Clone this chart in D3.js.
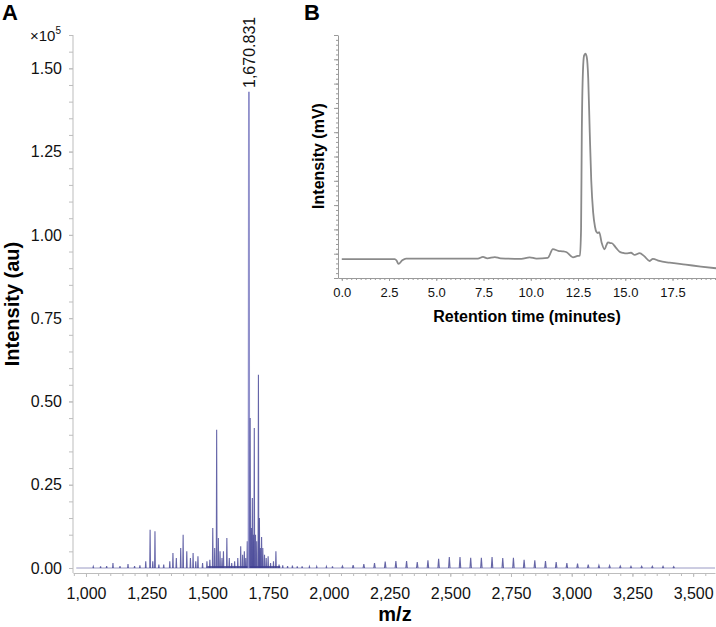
<!DOCTYPE html>
<html><head><meta charset="utf-8">
<script src="https://cdn.jsdelivr.net/npm/d3@7/dist/d3.min.js"></script>
<style>body{margin:0;background:#fff}svg{display:block;font-family:"Liberation Sans",Arial,sans-serif}</style>
</head><body><svg id="c" width="716" height="627"></svg>
<script>
// ---------- Panel A: mass spectrum (intensity in units of 1e5) ----------
const msMz = [1030,1060,1085,1111,1140,1173,1200,1222,1246,1264,1275,1284,1300,1320,1345,1358,1372,1390,1400,1415,1430,1441,1452,1461,1480,1498,1510,1522,1530,1538,1545,1552,1560,1566,1580,1590,1600,1612,1625,1637,1645,1652,1658,1664,1670.831,1676,1681,1685,1689,1693,1698,1703,1710,1714,1718,1723,1728,1735,1742,1750,1760,1772,1782,1795,1810,1830,1850,1870,1890,1920,1950,1990,2015];
const msInt = [0.004,0.005,0.006,0.015,0.006,0.012,0.006,0.008,0.02,0.115,0.02,0.11,0.01,0.01,0.02,0.045,0.03,0.06,0.1,0.05,0.03,0.045,0.02,0.035,0.015,0.02,0.025,0.12,0.06,0.415,0.09,0.05,0.03,0.05,0.09,0.03,0.015,0.02,0.03,0.065,0.04,0.05,0.03,0.08,1.43,0.45,0.12,0.21,0.1,0.42,0.1,0.08,0.58,0.15,0.06,0.093,0.06,0.04,0.03,0.035,0.015,0.02,0.05,0.01,0.008,0.006,0.007,0.005,0.005,0.004,0.004,0.004,0.005];
// periodic (44 Da) series
const pegMz = [2057,2101,2145,2189,2233,2277,2321,2365,2409,2453,2497,2541,2585,2629,2673,2717,2761,2805,2849,2893,2937,2981,3025,3069,3113,3157,3201,3245,3289,3333,3377,3421];
const pegInt = [0.006,0.009,0.012,0.015,0.019,0.021,0.021,0.018,0.023,0.028,0.033,0.033,0.031,0.031,0.033,0.030,0.031,0.025,0.023,0.021,0.018,0.015,0.013,0.010,0.008,0.007,0.006,0.005,0.005,0.005,0.005,0.004];
const msXTicks = [1000,1250,1500,1750,2000,2250,2500,2750,3000,3250,3500];
const msYTicks = [0,0.25,0.5,0.75,1.0,1.25,1.5];
const msLabelPeak = "1,670.831";

// ---------- Panel B: chromatogram ----------
const lcTime = [0,2.8,2.9,3.0,3.2,3.4,7.2,7.47,7.7,8.1,8.4,9.5,9.94,10.3,10.9,11.17,11.45,11.67,11.9,12.23,12.48,12.6,12.66,12.7,12.76,12.82,12.89,12.96,13.04,13.12,13.2,13.3,13.4,13.47,13.55,13.62,13.75,13.9,14.0,14.08,14.2,14.3,14.5,14.7,14.9,15.05,15.3,15.5,15.76,16.0,16.29,16.46,16.8,17.35,18.2,19.0,19.8];
const lcMv = [7.8,7.8,7.2,5.8,7.3,8.0,8.0,8.7,8.1,8.6,8.1,7.9,8.5,8.0,8.3,11.9,11.2,11.0,10.6,8.5,9.1,9.2,20,60,85,91.5,92.3,91,82,60,40,27,21,19,18.5,18.9,14.5,11.8,13.5,14.7,14.4,14.3,12.5,10.8,10.3,10.1,10.4,9.5,10.2,9.0,7.0,7.9,7.0,6.3,5.5,4.7,4.0];
const lcXTicks = [0,2.5,5,7.5,10,12.5,15,17.5];

const svg = d3.select("#c");
const axisCol = "#bdbdbd";

// ===== Panel A =====
const x = d3.scaleLinear().domain([946.5, 3590]).range([73, 715]);
const y = d3.scaleLinear().domain([-0.015, 1.6]).range([573, 35]);

const gA = svg.append("g");
gA.append("line").attr("x1", x(960)).attr("x2", x(3590)).attr("y1", y(0)).attr("y2", y(0))
  .attr("stroke", "#9a9ac4").attr("stroke-width", 1);
gA.append("line").attr("x1", x(1500)).attr("x2", x(1800)).attr("y1", y(0.003)).attr("y2", y(0.003))
  .attr("stroke", "#2a2a80").attr("stroke-width", 2).attr("opacity", 0.7);

const spike = d3.line().x(d => x(d[0])).y(d => y(d[1]));
const peaks = msMz.map((m, i) => ({m, h: msInt[i]}));
const pegs = pegMz.map((m, i) => ({m, h: pegInt[i]}));

gA.selectAll("path.peg").data(pegs).join("path").attr("class", "peg")
  .attr("d", d => spike([[d.m - 4, 0], [d.m - 1, d.h], [d.m + 2, 0]]))
  .attr("fill", "none").attr("stroke", "#4a4a96").attr("stroke-width", 1.1).attr("opacity", 0.85);

gA.selectAll("path.pk").data(peaks).join("path").attr("class", "pk")
  .attr("d", d => spike([[d.m - 1.5, 0], [d.m, d.h], [d.m + 1.5, 0]]))
  .attr("fill", "none")
  .attr("stroke", d => d.h > 1 ? "#8a8ac8" : "#3e3e92")
  .attr("stroke-width", d => d.h > 1 ? 1.8 : 1.1)
  .attr("opacity", d => d.h > 1 ? 0.95 : 0.8);

// axes A
const xMinor = d3.range(950, 3600, 50);
const gx = svg.append("g").attr("transform", "translate(0,573)")
  .call(d3.axisBottom(x).tickValues(xMinor).tickSize(3).tickSizeOuter(0).tickFormat(""));
const gx2 = svg.append("g").attr("transform", "translate(0,573)")
  .call(d3.axisBottom(x).tickValues(msXTicks).tickSize(4).tickSizeOuter(0).tickPadding(11).tickFormat(d3.format(",")));
const yMinor = d3.range(0, 1.6001, 0.05);
const gy = svg.append("g").attr("transform", "translate(73,0)")
  .call(d3.axisLeft(y).tickValues(yMinor).tickSize(4).tickSizeOuter(0).tickFormat(""));
const gy2 = svg.append("g").attr("transform", "translate(73,0)")
  .call(d3.axisLeft(y).tickValues(msYTicks).tickSize(4).tickSizeOuter(0).tickPadding(7).tickFormat(d3.format(".2f")));
[gx, gx2, gy, gy2].forEach(g => {
  g.selectAll("path,line").attr("stroke", axisCol);
  g.selectAll("text").attr("font-size", 16).attr("fill", "#111").attr("font-family", "Liberation Sans, Arial, sans-serif");
});
gy.select(".domain").attr("d", `M0,${y(1.6)}V573`);
gy2.select(".domain").remove();
gx2.select(".domain").remove();

const mult = svg.append("text").attr("x", 30).attr("y", 41).attr("font-size", 15).attr("fill", "#111");
mult.append("tspan").text("×10");
mult.append("tspan").attr("font-size", 10).attr("dy", -7).text("5");

svg.append("text").attr("transform", `translate(${x(1670.831) + 6},88) rotate(-90)`)
  .attr("font-size", 16).attr("fill", "#111").text(msLabelPeak);

svg.append("text").attr("x", 395).attr("y", 621).attr("text-anchor", "middle")
  .attr("font-size", 20).attr("font-weight", "bold").text("m/z");
svg.append("text").attr("transform", "translate(19,304) rotate(-90)").attr("text-anchor", "middle")
  .attr("font-size", 20).attr("font-weight", "bold").text("Intensity (au)");
svg.append("text").attr("x", 2).attr("y", 20).attr("font-size", 22).attr("font-weight", "bold").text("A");

// ===== Panel B =====
const bx = d3.scaleLinear().domain([-0.2, 19.8]).range([338, 716]);
const by = d3.scaleLinear().domain([0, 100]).range([278, 35]);

const gbx = svg.append("g").attr("transform", "translate(0,278)")
  .call(d3.axisBottom(bx).tickValues(d3.range(0, 19.9, 0.25)).tickSize(2).tickSizeOuter(0).tickFormat(""));
const gbx2 = svg.append("g").attr("transform", "translate(0,278)")
  .call(d3.axisBottom(bx).tickValues(lcXTicks).tickSize(3).tickSizeOuter(0).tickPadding(7).tickFormat(d3.format(".1f")));
const gby = svg.append("g").attr("transform", "translate(338,0)")
  .call(d3.axisLeft(by).tickValues(d3.range(0, 100.1, 2)).tickSize(2).tickSizeOuter(0).tickFormat(""));
const gby2 = svg.append("g").attr("transform", "translate(338,0)")
  .call(d3.axisLeft(by).tickValues(d3.range(0, 100.1, 10)).tickSize(4).tickSizeOuter(0).tickFormat(""));
[gbx, gbx2, gby, gby2].forEach(g => {
  g.selectAll("path,line").attr("stroke", "#9a9a9a");
  g.selectAll("text").attr("font-size", 13).attr("fill", "#111").attr("font-family", "Liberation Sans, Arial, sans-serif");
});
gbx2.select(".domain").remove();
gby2.select(".domain").remove();

const lcLine = d3.line().x((d, i) => bx(lcTime[i])).y(d => by(d)).curve(d3.curveMonotoneX);
svg.append("path").attr("d", lcLine(lcMv)).attr("fill", "none")
  .attr("stroke", "#8a8a8a").attr("stroke-width", 1.8);

svg.append("text").attr("x", 527).attr("y", 322).attr("text-anchor", "middle")
  .attr("font-size", 16).attr("font-weight", "bold").text("Retention time (minutes)");
svg.append("text").attr("transform", "translate(324,156) rotate(-90)").attr("text-anchor", "middle")
  .attr("font-size", 16).attr("font-weight", "bold").text("Intensity (mV)");
svg.append("text").attr("x", 304).attr("y", 20).attr("font-size", 22).attr("font-weight", "bold").text("B");
</script>
</body></html>
